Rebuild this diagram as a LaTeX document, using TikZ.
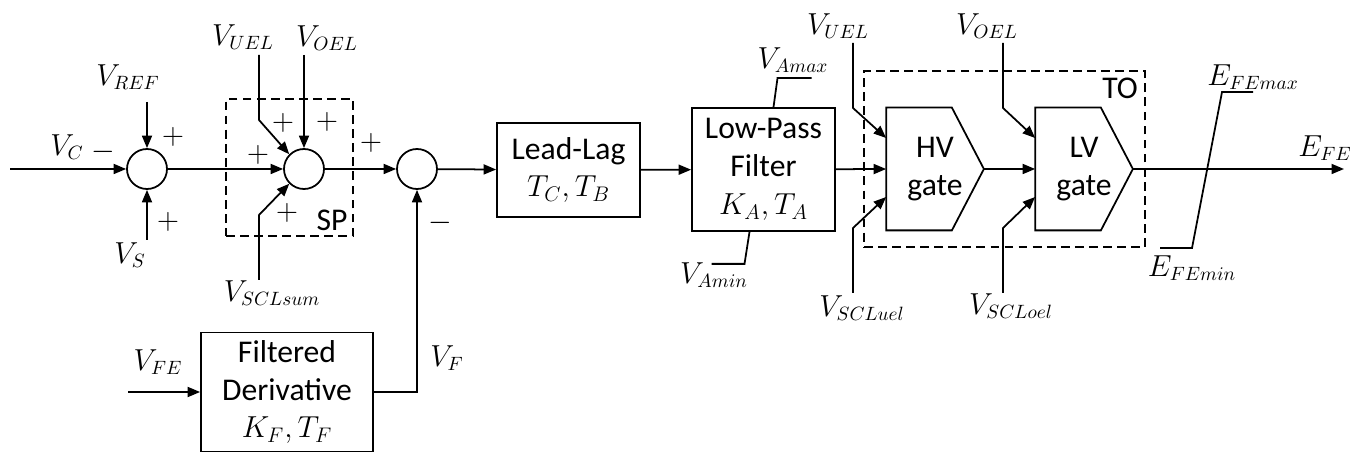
\documentclass[tikz,border=0pt]{standalone}
\usepackage{fontspec}
\setmainfont{Carlito}
\usetikzlibrary{arrows.meta, positioning, calc}

\begin{document}
\begin{tikzpicture}[
  x=0.2mm, y=-0.2mm, line width=1pt,
  font=\fontsize{16}{19}\selectfont,
  >={Triangle[length=2.5mm, width=2mm]},
  block/.style={draw, align=center, inner sep=2pt,
                font=\fontsize{18}{21.5}\selectfont},
  sum/.style={draw, circle, minimum size=8mm, inner sep=0pt},
  gate/.style={align=center, minimum width=19.2mm, minimum height=24.2mm,
               inner sep=0pt, font=\fontsize{18}{21.5}\selectfont},
  frame/.style={draw, line width=0.7pt, dash pattern=on 5pt off 3pt},
  tag/.style={font=\fontsize{18}{21.5}\selectfont},
  sig/.style={inner sep=1pt},
  arr/.style={->}
]
\useasboundingbox (0,0) rectangle (1356,453);

%% ── SUMMING JUNCTIONS ────────────────────────────────────────────────────────

\node[sum] (s1) at (147,169) {};
\node[sum] (s2) at (304,169) {};
\node[sum] (s3) at (417,169) {};

%% ── BLOCKS ───────────────────────────────────────────────────────────────────

\node[block, minimum width=28.6mm, minimum height=18.8mm] (lead) at (568.5,170) {
  Lead-Lag\\$T_C{,}\,T_B$
};

\node[block, minimum width=28.6mm, minimum height=24.6mm] (lpf) at (763.5,169.5) {
  Low-Pass\\Filter\\$K_A{,}\,T_A$
};

\node[block, minimum width=34.4mm, minimum height=23.8mm] (fd) at (287,392) {
  Filtered\\Derivative\\$K_F{,}\,T_F$
};

\node[gate] (hv) at (935,169) {HV\\gate};
\node[gate] (lv) at (1084,169) {LV\\gate};

\foreach \g in {hv, lv}
  \draw (\g.north west) -- ($(\g.north east)+(-32,0)$) -- (\g.east)
        -- ($(\g.south east)+(-32,0)$) -- (\g.south west) -- cycle;

%% ── DASHED GROUPS ────────────────────────────────────────────────────────────

\node[frame, minimum width=25.4mm, minimum height=27.4mm] (sp) at (289.5,167.5) {};
\node[tag, anchor=south east, inner sep=3pt] (spLbl) at (sp.south east) {SP};

\node[frame, minimum width=56.2mm, minimum height=35.2mm] (to) at (1004.5,159) {};
\node[tag, anchor=north east, inner sep=4pt] (toLbl) at (to.north east) {TO};

%% ── SIGNAL LABELS ────────────────────────────────────────────────────────────

\node[sig] (vc)    at (67,147)   {$V_C$};
\node[sig] (vref)  at (128,77)   {$V_{REF}$};
\node[sig] (vs)    at (130,255)  {$V_S$};
\node[sig] (vuelA) at (243,37)   {$V_{UEL}$};
\node[sig] (voelA) at (327,38)   {$V_{OEL}$};
\node[sig] (vsum)  at (272,293)  {$V_{SCLsum}$};
\node[sig] (vfe)   at (158,362)  {$V_{FE}$};
\node[sig] (vf)    at (447,358)  {$V_F$};
\node[sig] (vamax) at (793,60)   {$V_{Amax}$};
\node[sig] (vamin) at (714,275)  {$V_{Amin}$};
\node[sig] (vuelB) at (838,26)   {$V_{UEL}$};
\node[sig] (vuel)  at (862,308)  {$V_{SCLuel}$};
\node[sig] (voelB) at (987,26)   {$V_{OEL}$};
\node[sig] (voel)  at (1011,306) {$V_{SCLoel}$};
\node[sig] (efe)   at (1325,148) {$E_{FE}$};
\node[sig] (efmax) at (1253,77)  {$E_{FEmax}$};
\node[sig] (efmin) at (1192,268) {$E_{FEmin}$};

%% signs
\node (m1) at (103,152) {$-$};
\node (p1) at (173,137) {$+$};
\node (p2) at (168,222) {$+$};
\node (p3) at (258,155) {$+$};
\node (p4) at (283,123) {$+$};
\node (p5) at (327,122) {$+$};
\node (p6) at (287,213) {$+$};
\node (p7) at (371,143) {$+$};
\node (m2) at (440,223) {$-$};

%% ── FREE ENDS ────────────────────────────────────────────────────────────────

\coordinate (vcIn)    at (10,169);
\coordinate (vrefIn)  at (147,102);
\coordinate (vsIn)    at (147,240);
\coordinate (vuelAIn) at (259,55);
\coordinate (voelAIn) at (304,55);
\coordinate (vsumIn)  at (259,280);
\coordinate (vfeIn)   at (128,392);
\coordinate (vuelBIn) at (853,43);
\coordinate (vuelIn)  at (853,293);
\coordinate (voelBIn) at (1003,43);
\coordinate (voelIn)  at (1003,293);
\coordinate (efeOut)  at (1344,169);

%% ── ARROWS: main data flow ───────────────────────────────────────────────────

\draw[arr] (vcIn)  -- (s1.west);
\draw[arr] (s1)    -- (s2);
\draw[arr] (s2)    -- (s3);
\draw[arr] (s3)    -- (lead);
\draw[arr] (lead)  -- (lpf);
\draw[arr] (lpf)   -- (hv.west);
\draw[arr] (hv.east) -- (lv.west);
\draw[arr] (lv.east) -- (efeOut);

%% ── ARROWS: side inputs ──────────────────────────────────────────────────────

\draw[arr] (vrefIn) -- (s1.north);
\draw[arr] (vsIn)   -- (s1.south);
\draw[arr] (vuelAIn) -- ++(0,65) -- (s2.135);
\draw[arr] (voelAIn) -- (s2.north);
\draw[arr] (vsumIn)  -- ++(0,-65) -- (s2.225);
\draw[arr] (vfeIn)  -- (fd.west);
\draw[arr] (fd.east) -| (s3.south);

\draw[arr] (vuelBIn) -- ++(0,65) -- ($(hv.west)+(0,-31)$);
\draw[arr] (vuelIn)  -- ++(0,-65) -- ($(hv.west)+(0,28)$);
\draw[arr] (voelBIn) -- ++(0,65) -- ($(lv.west)+(0,-31)$);
\draw[arr] (voelIn)  -- ++(0,-65) -- ($(lv.west)+(0,28)$);

%% ── LIMITS ───────────────────────────────────────────────────────────────────

\draw ($(lpf.north)+(10,0)$) -- ++(4,-29) -- ++(34,0);
\draw ($(lpf.south)+(-14,0)$) -- ++(-5,32) -- ++(-33,0);
\draw (1160,248) -- (1192,248) -- (1222,92) -- (1253,92);

\end{tikzpicture}
\end{document}
